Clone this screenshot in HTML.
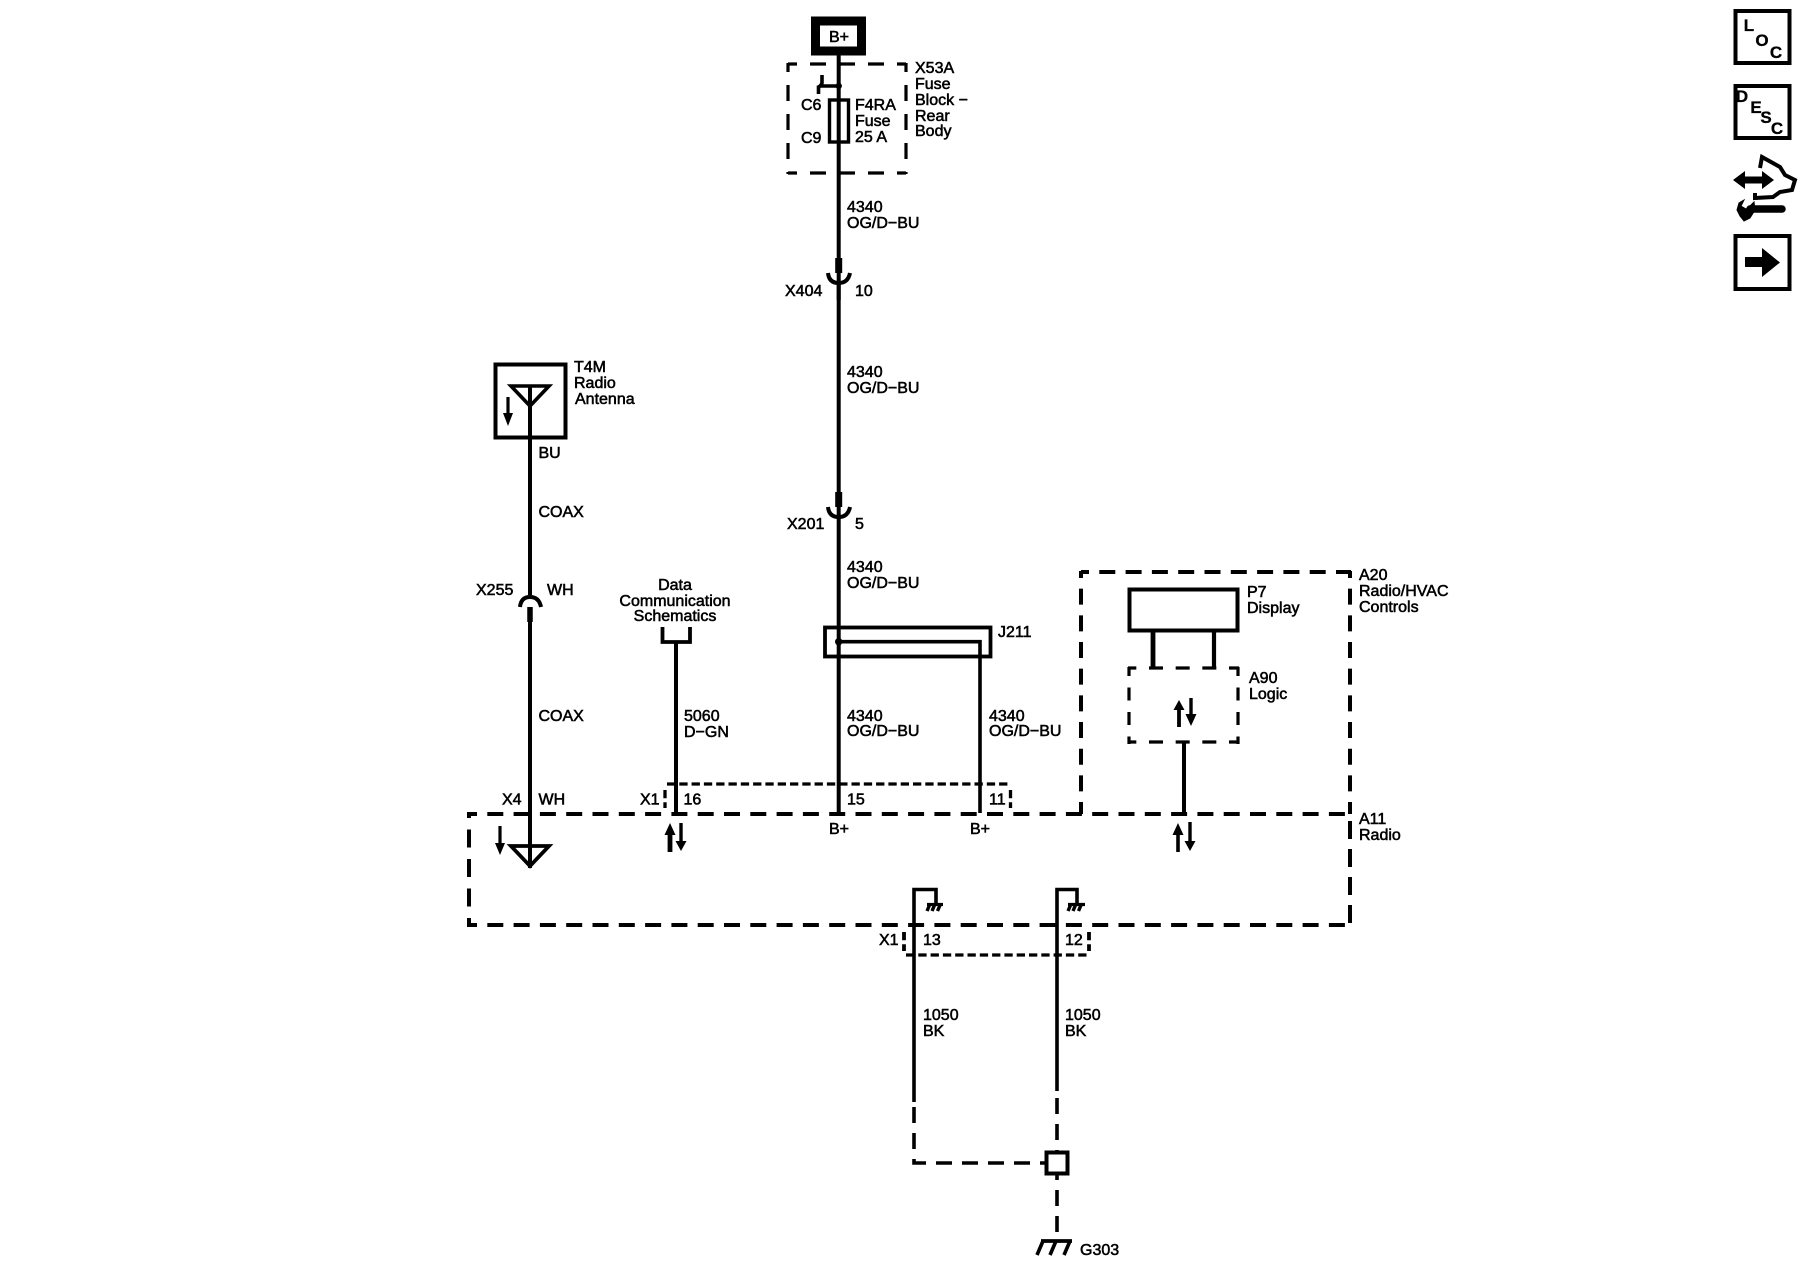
<!DOCTYPE html>
<html><head><meta charset="utf-8"><title>Radio schematic</title>
<style>
html,body{margin:0;padding:0;background:#fff;width:1800px;height:1280px;overflow:hidden}
svg{display:block}
text{font-family:"Liberation Sans",sans-serif;font-size:16px;fill:#000;stroke:#000;stroke-width:.55px}
.b{font-weight:bold;font-size:17px;stroke-width:.3px}
line,path,rect,polyline{fill:none;stroke:#000;stroke-width:3.5}
polygon{fill:#000;stroke:none}
.d26 line{stroke-dasharray:16 10.3;stroke-dashoffset:8;stroke-width:4}
.d1 line{stroke-dasharray:14 12.67;stroke-dashoffset:5.67;stroke-width:3.2}
.d2 line{stroke-dasharray:16 13;stroke-dashoffset:7;stroke-width:3.2}
.dot line{stroke-dasharray:8.3 4;stroke-width:3.3}
</style></head><body>
<svg width="1800" height="1280" viewBox="0 0 1800 1280" xmlns="http://www.w3.org/2000/svg">
<rect width="1800" height="1280" style="fill:#fff;stroke:none"/>

<!-- B+ source -->
<rect x="815.5" y="21" width="46" height="30" style="stroke-width:9"/>
<text x="829" y="42">B+</text>

<!-- X53A fuse block -->
<g class="d2">
<line x1="788" y1="64" x2="906" y2="64"/>
<line x1="788" y1="173" x2="906" y2="173"/>
<line x1="788" y1="63" x2="788" y2="174"/>
<line x1="906" y1="63" x2="906" y2="174"/>
</g>
<line x1="838.7" y1="55" x2="838.7" y2="258" style="stroke-width:4"/>
<line x1="838.7" y1="258" x2="838.7" y2="273" style="stroke-width:7"/>
<line x1="838.7" y1="273" x2="838.7" y2="300" style="stroke-width:4"/>
<path d="M822 75 L822 83 Q821 86 818.5 87 L818.5 94 M819 86 L838 86" style="stroke-width:3.6"/>
<circle cx="838.7" cy="86" r="3.2" fill="#000"/>
<rect x="829.5" y="100" width="19" height="42" style="stroke-width:3.4"/>
<text x="801" y="110">C6</text>
<text x="801" y="143">C9</text>
<text x="855" y="110">F4RA</text>
<text x="855" y="126">Fuse</text>
<text x="855" y="142">25 A</text>
<text x="915" y="73">X53A</text>
<text x="915" y="89">Fuse</text>
<text x="915" y="105">Block −</text>
<text x="915" y="121">Rear</text>
<text x="915" y="136">Body</text>
<text x="847" y="212">4340</text>
<text x="847" y="228">OG/D−BU</text>

<!-- X404 -->
<path d="M828 273 Q829 283 838.7 283 Q848 283 850 273" style="stroke-width:4"/>
<text x="785" y="296">X404</text>
<text x="855" y="296">10</text>
<line x1="838.7" y1="283" x2="838.7" y2="492" style="stroke-width:4"/>
<text x="847" y="377">4340</text>
<text x="847" y="393">OG/D−BU</text>

<!-- X201 -->
<line x1="838.7" y1="492" x2="838.7" y2="507" style="stroke-width:7"/>
<line x1="838.7" y1="507" x2="838.7" y2="518" style="stroke-width:4"/>
<path d="M828 507 Q829 517 838.7 517 Q848 517 850 507" style="stroke-width:4"/>
<text x="787" y="529">X201</text>
<text x="855" y="529">5</text>
<line x1="838.7" y1="517" x2="838.7" y2="813" style="stroke-width:4"/>
<text x="847" y="572">4340</text>
<text x="847" y="588">OG/D−BU</text>

<!-- J211 -->
<rect x="825" y="627.5" width="165.5" height="29" style="stroke-width:3.8"/>
<circle cx="838.7" cy="641.7" r="3.7" fill="#000"/>
<path d="M838.7 641.7 H980 V813" style="stroke-width:3.6"/>
<text x="998" y="637">J211</text>
<text x="847" y="721">4340</text>
<text x="847" y="736">OG/D−BU</text>
<text x="989" y="721">4340</text>
<text x="989" y="736">OG/D−BU</text>

<!-- Antenna T4M -->
<rect x="495.5" y="364.5" width="70" height="73" style="stroke-width:4"/>
<path d="M511 386 H549 L530 406 Z" style="stroke-width:3.6"/>
<line x1="530" y1="385" x2="530" y2="595" style="stroke-width:4"/>
<line x1="508" y1="397" x2="508" y2="416" style="stroke-width:3.2"/>
<polygon points="503,413 513,413 508,426"/>
<text x="574" y="372">T4M</text>
<text x="574" y="388">Radio</text>
<text x="575" y="404">Antenna</text>
<text x="538.5" y="458">BU</text>
<text x="538.5" y="517">COAX</text>

<!-- X255 -->
<text x="476" y="595">X255</text>
<text x="547" y="595">WH</text>
<path d="M520 607 Q521 597 530 597 Q539 597 541 607" style="stroke-width:4"/>
<line x1="530" y1="607" x2="530" y2="622" style="stroke-width:5.5"/>
<line x1="530" y1="622" x2="530" y2="868" style="stroke-width:4"/>
<text x="538.5" y="721">COAX</text>
<text x="502" y="804.5">X4</text>
<text x="538.5" y="804.5">WH</text>

<!-- Data Communication -->
<text x="675" y="590" text-anchor="middle">Data</text>
<text x="675" y="606" text-anchor="middle">Communication</text>
<text x="675" y="621" text-anchor="middle">Schematics</text>
<path d="M662.5 627 V642 H690 V627" style="stroke-width:3.8"/>
<line x1="676" y1="642" x2="676" y2="814" style="stroke-width:4"/>
<text x="684" y="721">5060</text>
<text x="684" y="737">D−GN</text>
<text x="640" y="804.5">X1</text>
<text x="683.5" y="804.5">16</text>
<text x="847" y="804.5">15</text>
<text x="989" y="804.5">11</text>
<text x="829" y="834">B+</text>
<text x="970" y="834">B+</text>

<!-- X1 dotted upper -->
<g class="dot">
<line x1="667" y1="784" x2="1009" y2="784"/>
<line x1="665" y1="790" x2="665" y2="808"/>
<line x1="1010.5" y1="790" x2="1010.5" y2="808"/>
</g>

<!-- A11 -->
<g class="d26">
<line x1="469" y1="814" x2="1351" y2="814"/>
<line x1="469" y1="925" x2="1351" y2="925"/>
<line x1="469" y1="812" x2="469" y2="927" style="stroke-dasharray:18 11.5;stroke-dashoffset:12"/>
<line x1="1350" y1="814" x2="1350" y2="927" style="stroke-dasharray:18 10;stroke-dashoffset:21"/>
<!-- A20 -->
<line x1="1081" y1="572" x2="1351" y2="572"/>
<line x1="1081" y1="571" x2="1081" y2="814" style="stroke-dasharray:16 10.67;stroke-dashoffset:9"/>
<line x1="1350" y1="571" x2="1350" y2="814" style="stroke-dasharray:16 10.67;stroke-dashoffset:9"/>
</g>

<!-- arrows in A11 -->
<line x1="500" y1="826" x2="500" y2="845" style="stroke-width:3.2"/>
<polygon points="495,843 505,843 500,855"/>
<path d="M511 846 H549 L530 866 Z" style="stroke-width:3.8"/>

<line x1="670" y1="833" x2="670" y2="852" style="stroke-width:4.8"/>
<polygon points="664.5,835 675.5,835 670,823"/>
<line x1="681" y1="823" x2="681" y2="843" style="stroke-width:3.4"/>
<polygon points="675.5,841 686.5,841 681,851"/>

<line x1="1178" y1="833" x2="1178" y2="852" style="stroke-width:3.6"/>
<polygon points="1172.5,835 1183.5,835 1178,823"/>
<line x1="1190" y1="822" x2="1190" y2="842" style="stroke-width:3.4"/>
<polygon points="1184.5,841 1195.5,841 1190,851"/>

<!-- P7 -->
<rect x="1129.5" y="589.5" width="108" height="41" style="stroke-width:4"/>
<line x1="1153" y1="631" x2="1153" y2="668" style="stroke-width:4.8"/>
<line x1="1214" y1="631" x2="1214" y2="668" style="stroke-width:4.2"/>
<text x="1247" y="597">P7</text>
<text x="1247" y="613">Display</text>

<!-- A90 -->
<g class="d1">
<line x1="1128" y1="668" x2="1239" y2="668"/>
<line x1="1128" y1="742" x2="1239" y2="742"/>
<line x1="1129" y1="667" x2="1129" y2="744" style="stroke-dasharray:13 11.5;stroke-dashoffset:4"/>
<line x1="1238" y1="667" x2="1238" y2="744" style="stroke-dasharray:13 11.5;stroke-dashoffset:4"/>
</g>
<line x1="1179" y1="708" x2="1179" y2="727" style="stroke-width:3.8"/>
<polygon points="1173.5,710 1184.5,710 1179,700"/>
<line x1="1191" y1="698" x2="1191" y2="717" style="stroke-width:3.4"/>
<polygon points="1185.5,714 1196.5,714 1191,726"/>
<line x1="1184" y1="742" x2="1184" y2="814" style="stroke-width:4"/>
<text x="1249" y="683">A90</text>
<text x="1249" y="699">Logic</text>

<text x="1359" y="580">A20</text>
<text x="1359" y="596">Radio/HVAC</text>
<text x="1359" y="612">Controls</text>
<text x="1359" y="824">A11</text>
<text x="1359" y="840">Radio</text>

<!-- Grounds -->
<path d="M936 903 V889.5 H914 V1102" style="stroke-width:3.6"/>
<path d="M927 904.5 H943" style="stroke-width:3.2"/>
<path d="M930 904 L927 911 M935 904 L932 911 M940.5 904 L937.5 911" style="stroke-width:3.4"/>
<path d="M1077 903 V889.5 H1057 V1091" style="stroke-width:3.6"/>
<path d="M1068 904.5 H1085" style="stroke-width:3.2"/>
<path d="M1071 904 L1068 911 M1076 904 L1073 911 M1081.5 904 L1078.5 911" style="stroke-width:3.4"/>

<g class="dot">
<line x1="906" y1="955" x2="1088" y2="955"/>
<line x1="904" y1="932" x2="904" y2="951" style="stroke-width:3.8"/>
<line x1="1089" y1="932" x2="1089" y2="951" style="stroke-width:3.8"/>
</g>
<text x="879" y="945">X1</text>
<text x="923" y="945">13</text>
<text x="1065" y="945">12</text>
<text x="923" y="1020">1050</text>
<text x="923" y="1036">BK</text>
<text x="1065" y="1020">1050</text>
<text x="1065" y="1036">BK</text>

<path d="M914 1107 V1163 H1045" style="stroke-width:3.6;stroke-dasharray:16 10"/>
<path d="M1057 1098 V1151" style="stroke-width:3.6;stroke-dasharray:16 10"/>
<rect x="1046.5" y="1152.5" width="21" height="21" style="stroke-width:4"/>
<path d="M1057 1174 V1240" style="stroke-width:3.6;stroke-dasharray:6 10 16 10 16 10"/>
<path d="M1041 1241 H1072" style="stroke-width:3.8"/>
<path d="M1043 1241 L1037 1255 M1056 1241 L1050 1255 M1070 1241 L1064 1255" style="stroke-width:3.6"/>
<text x="1080" y="1255">G303</text>

<!-- Side icons -->
<rect x="1735.5" y="11" width="54" height="52" style="stroke-width:4"/>
<text class="b" x="1749" y="31" text-anchor="middle">L</text>
<text class="b" x="1762" y="46" text-anchor="middle">O</text>
<text class="b" x="1776" y="58" text-anchor="middle">C</text>
<rect x="1735.5" y="86" width="54" height="52" style="stroke-width:4"/>
<text class="b" x="1742" y="102" text-anchor="middle">D</text>
<text class="b" x="1756" y="113" text-anchor="middle">E</text>
<text class="b" x="1766" y="123" text-anchor="middle">S</text>
<text class="b" x="1777" y="134" text-anchor="middle">C</text>

<polyline points="1760,168 1762,157 1780,167 1785,175 1795,180 1792,190 1780,192 1773,197 1755,198 1755,193" style="stroke-width:4"/>
<polygon points="1733,180 1745,171 1745,176.5 1762,176.5 1762,171 1774,180 1762,189 1762,183.5 1745,183.5 1745,189"/>
<line x1="1750" y1="209" x2="1782" y2="209" style="stroke-width:7.5;stroke-linecap:round"/>
<path d="M1744 200 L1741 206 L1746 209 L1751 205 L1754 202 L1755 210 L1750 218 L1744 221 L1740 216 L1737 210 L1739 203 Z" style="fill:#000;stroke:#000;stroke-width:1"/>

<rect x="1735.5" y="236" width="54" height="53" style="stroke-width:4"/>
<polygon points="1745,257 1762,257 1762,248 1780,262.5 1762,277 1762,267 1745,267"/>
</svg>
</body></html>
